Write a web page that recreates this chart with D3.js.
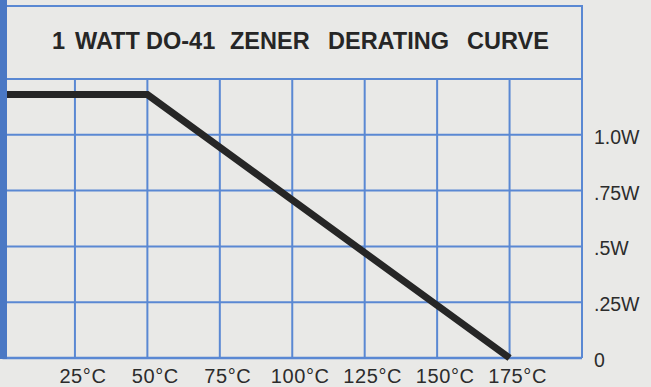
<!DOCTYPE html>
<html>
<head>
<meta charset="utf-8">
<script src="https://cdn.jsdelivr.net/npm/d3@7"></script>
<style>
  html, body { margin: 0; padding: 0; background: #e9e9e7; }
  svg { display: block; }
  text { font-family: "Liberation Sans", Arial, Helvetica, sans-serif; }
</style>
</head>
<body>
<svg id="chart" width="651" height="387"></svg>
<script>
// Derating curve: ambient temperature (°C) vs. allowed power (W)
const curveTemps = [0, 50, 175];
const curveWatts = [1.18, 1.18, 0];

// Grid / tick values
const tempTicks = [25, 50, 75, 100, 125, 150, 175];
const tempLabels = ["25°C", "50°C", "75°C", "100°C", "125°C", "150°C", "175°C"];
const wattTicks = [0, 0.25, 0.5, 0.75, 1.0, 1.25];
const wattLabels = ["0", ".25W", ".5W", ".75W", "1.0W", ""];
const titleWords = ["1", "WATT", "DO-41", "ZENER", "DERATING", "CURVE"];

const W = 651, H = 387;
const svg = d3.select("#chart");

const x = d3.scaleLinear().domain([0, 200]).range([2.5, 582]);
const y = d3.scaleLinear().domain([0, 1.25]).range([358, 79]);

const gridBlue = "#5a88d3";
const frameTop = 6;

svg.append("rect").attr("width", W).attr("height", H).attr("fill", "#e9e9e7");

// Vertical grid lines
svg.append("g").selectAll("line").data(tempTicks).join("line")
  .attr("x1", d => x(d)).attr("x2", d => x(d))
  .attr("y1", y(1.25)).attr("y2", y(0))
  .attr("stroke", gridBlue).attr("stroke-width", 2);

// Horizontal grid lines
svg.append("g").selectAll("line").data(wattTicks).join("line")
  .attr("x1", x(0)).attr("x2", x(200))
  .attr("y1", d => y(d)).attr("y2", d => y(d))
  .attr("stroke", gridBlue).attr("stroke-width", d => d === 0 ? 2.5 : 2);

// Outer frame: top and right edges
svg.append("path")
  .attr("d", `M${x(0)},${frameTop}H${x(200)}V${y(0)}`)
  .attr("fill", "none").attr("stroke", gridBlue).attr("stroke-width", 2);

// Title, each word placed on its own with wide gaps
const titleX = [52, 75, 146, 230, 328, 467];
svg.append("g").selectAll("text").data(titleWords).join("text")
  .attr("x", (d, i) => titleX[i]).attr("y", 49)
  .attr("font-size", 23.5).attr("font-weight", "bold")
  .attr("fill", "#262626")
  .text(d => d);

// Derating curve
const line = d3.line().x(d => x(d[0])).y(d => y(d[1]));
svg.append("path")
  .datum(curveTemps.map((t, i) => [t, curveWatts[i]]))
  .attr("d", line)
  .attr("fill", "none").attr("stroke", "#262626")
  .attr("stroke-width", 7).attr("stroke-linejoin", "miter");

// Left accent bar
svg.append("rect").attr("x", 0).attr("y", 0)
  .attr("width", 7).attr("height", y(0) + 1)
  .attr("fill", "#4a78c4");

// Temperature labels
svg.append("g").selectAll("text").data(tempTicks).join("text")
  .attr("x", d => x(d) + 8).attr("y", 383)
  .attr("text-anchor", "middle")
  .attr("font-size", 20).attr("letter-spacing", 0.6).attr("fill", "#2c2c2c")
  .text((d, i) => tempLabels[i]);

// Power labels on the right
svg.append("g").selectAll("text").data(wattTicks).join("text")
  .attr("x", 594).attr("y", d => y(d) + 9)
  .attr("font-size", 19.5).attr("fill", "#2c2c2c")
  .text((d, i) => wattLabels[i]);
</script>
</body>
</html>
